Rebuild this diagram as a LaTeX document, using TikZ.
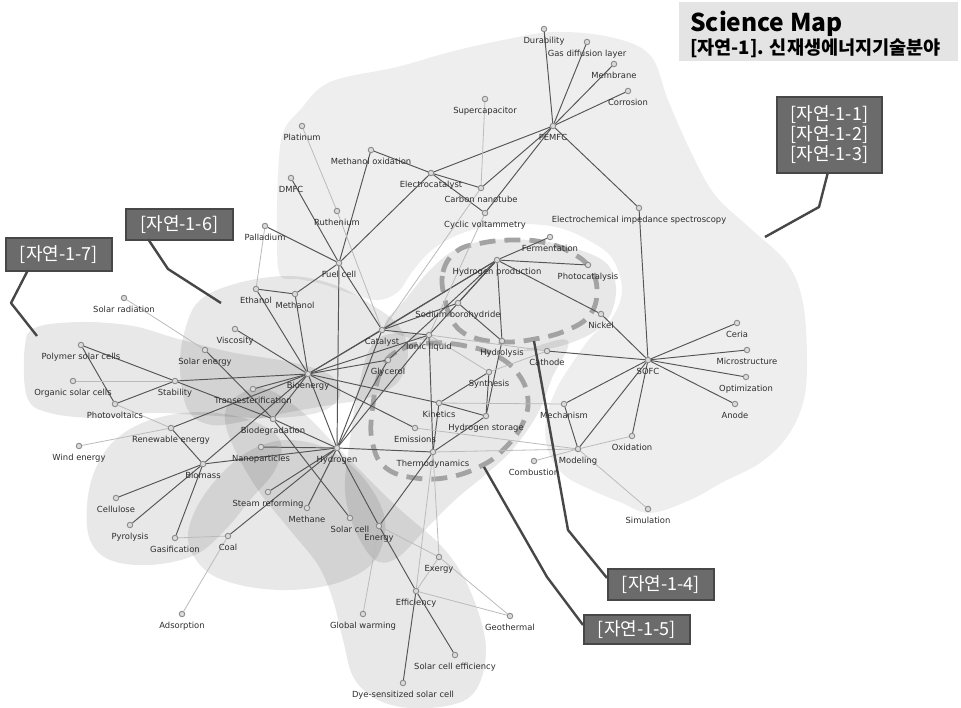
\documentclass[tikz,border=0pt]{standalone}
\usepackage{fontspec}
\setmainfont{DejaVu Sans}
\newfontfamily\kr{Noto Sans CJK KR}
\pgfdeclarelayer{blobs}
\pgfdeclarelayer{edges}
\pgfsetlayers{blobs,edges,main}
\definecolor{edark}{HTML}{555555}
\definecolor{elight}{HTML}{BBBBBB}
\definecolor{nodeline}{HTML}{8C8C8C}
\definecolor{nodefill}{HTML}{DADADA}
\definecolor{boxfill}{HTML}{6B6B6B}
\definecolor{boxline}{HTML}{474747}
\definecolor{leadercol}{HTML}{474747}
\definecolor{titlefill}{HTML}{E4E4E4}
\definecolor{dashcol}{HTML}{A3A3A3}
\definecolor{lbl}{HTML}{2E2E2E}
\tikzset{
 kw/.style={circle, draw=nodeline, fill=nodefill, line width=0.9pt, minimum size=5.5pt, inner sep=0pt},
 kwlabel/.style={font=\fontsize{8.4}{9}\selectfont, text=lbl, inner sep=0.5pt, text height=6.2pt, text depth=1.8pt},
 dk/.style={draw=edark, line width=0.95pt},
 lt/.style={draw=elight, line width=0.8pt},
 blobA/.style={fill=black, fill opacity=0.068},
 blob/.style={fill=black, fill opacity=0.09},
 loopline/.style={draw=dashcol, line width=4.8pt, dash pattern=on 16pt off 9pt, line cap=butt},
 tagbox/.style={fill=boxfill, draw=boxline, line width=1.6pt, text=white, font=\kr\fontsize{18}{20}\selectfont, inner xsep=4pt, inner ysep=2pt, anchor=north west},
 leaderline/.style={draw=leadercol, line width=2.4pt, line join=round},
}
\newcommand\kwnode[4]{\node[kw,label={[kwlabel]below:#4}] (#1) at (#2,#3) {};}
\begin{document}
\begin{tikzpicture}[x=1pt,y=-1pt,label distance=4pt]
\useasboundingbox (0,0) rectangle (961,707);

% ---------- background regions ----------
\begin{pgfonlayer}{blobs}
\fill[white] (0,0) rectangle (961,707);
\fill[blobA] plot[smooth cycle, tension=0.6] coordinates {
 (280,275) (277,235) (278,175) (283,133) (300,110) (330,82) (397,67) (450,52) (503,40) (553,32) (610,37) (650,55)
 (668,100) (690,150) (715,195) (750,228) (787,263) (803,303) (807,363) (803,403) (787,437) (760,463) (723,482)
 (690,500) (650,513) (620,502) (587,488) (563,474) (548,450) (546,420) (556,390) (573,362) (592,336) (612,318)
 (622,290) (612,258) (588,240) (560,228) (528,224) (495,225) (460,234) (432,250) (412,272) (398,292) (378,300)
 (352,294) (322,284) (298,279)};
\fill[blob] plot[smooth cycle, tension=0.6] coordinates {
 (385,325) (405,300) (430,270) (455,250) (490,240) (540,241) (580,250) (608,265) (616,292) (606,322)
 (578,340) (540,350) (490,350) (445,342) (410,338)};
\fill[blob] plot[smooth cycle, tension=0.6] coordinates {
 (372,345) (400,333) (450,343) (510,352) (567,340) (552,378) (537,415) (512,450) (485,475) (455,500)
 (425,530) (397,558) (375,560) (355,530) (345,490) (350,440) (358,390)};
\fill[blob] plot[smooth cycle, tension=0.6] coordinates {
 (200,300) (238,283) (290,276) (335,285) (372,305) (398,325) (408,352) (398,382) (368,398) (330,405)
 (290,412) (250,420) (212,425) (188,410) (180,368) (185,330)};
\fill[blob] plot[smooth cycle, tension=0.6] coordinates {
 (25,345) (37,327) (83,322) (133,326) (175,338) (230,352) (290,362) (330,375) (340,395) (320,412)
 (270,418) (200,415) (150,413) (100,418) (50,413) (27,397)};
\fill[blob] plot[smooth cycle, tension=0.6] coordinates {
 (95,470) (115,440) (150,420) (200,412) (250,420) (280,440) (275,470) (250,500) (225,530) (195,555)
 (150,565) (110,560) (90,540) (87,505)};
\fill[blob] plot[smooth cycle, tension=0.6] coordinates {
 (188,540) (198,505) (225,470) (255,448) (290,440) (330,450) (365,480) (385,520) (375,560) (340,582)
 (290,590) (240,585) (205,570)};
\fill[blob] plot[smooth cycle, tension=0.6] coordinates {
 (232,400) (262,388) (300,410) (345,455) (395,505) (445,550) (472,595) (486,650) (472,695) (430,708)
 (385,703) (355,680) (343,640) (333,600) (318,565) (290,530) (258,490) (235,450) (225,420)};
% dashed loops
\draw[loopline] plot[smooth cycle, tension=0.7] coordinates {
 (445,300) (443,272) (457,251) (482,243) (512,240) (542,242) (570,252) (590,268) (597,292) (589,316)
 (565,331) (535,339) (505,342) (475,338) (455,325)};
\draw[loopline] plot[smooth cycle, tension=0.7] coordinates {
 (382,368) (402,349) (432,343) (466,346) (497,356) (519,375) (528,400) (522,425) (505,448) (483,465)
 (450,477) (415,478) (386,468) (373,445) (372,412)};
\end{pgfonlayer}

% ---------- title and tags ----------
\node[fill=titlefill, minimum width=279pt, minimum height=59pt, anchor=north west, inner sep=0pt] (titlebox) at (679,2) {};
\node[anchor=base west, inner sep=0pt, font=\kr\bfseries\fontsize{24.5}{26}\selectfont] (title1) at (690,31) {Science Map};
\node[anchor=base west, inner sep=0pt, font=\kr\bfseries\fontsize{18.6}{20}\selectfont] (title2) at (690,54) {[자연-1]. 신재생에너지기술분야};

\node[tagbox, minimum width=105pt, minimum height=76pt, align=center] (t123) at (776,96) {[자연-1-1]\\{[자연-1-2]}\\{[자연-1-3]}};
\node[tagbox, minimum width=107pt, minimum height=31pt] (t6) at (125,208) {[자연-1-6]};
\node[tagbox, minimum width=106pt, minimum height=33pt] (t7) at (5,237) {[자연-1-7]};
\node[tagbox, minimum width=106pt, minimum height=31pt] (t4) at (607,568) {[자연-1-4]};
\node[tagbox, minimum width=106pt, minimum height=29pt] (t5) at (583,614) {[자연-1-5]};

\coordinate (l7a) at (28,270); \coordinate (l7b) at (11,303); \coordinate (l7c) at (37,336);
\coordinate (l6a) at (148,239); \coordinate (l6b) at (168,269); \coordinate (l6c) at (221,303);
\coordinate (l1a) at (828,172); \coordinate (l1b) at (819,207); \coordinate (l1c) at (765,237);
\coordinate (l4a) at (534,341); \coordinate (l4b) at (568,530); \coordinate (l4c) at (607,578);
\coordinate (l5a) at (484,467); \coordinate (l5b) at (547,577); \coordinate (l5c) at (583,625);
\draw[leaderline] (l7a) -- (l7b) -- (l7c);
\draw[leaderline] (l6a) -- (l6b) -- (l6c);
\draw[leaderline] (l1a) -- (l1b) -- (l1c);
\draw[leaderline] (l4a) -- (l4b) -- (l4c);
\draw[leaderline] (l5a) -- (l5b) -- (l5c);

% ---------- keyword nodes ----------
\kwnode{dur}{544}{29}{Durability}
\kwnode{gdl}{587}{42}{Gas diffusion layer}
\kwnode{mem}{614}{64}{Membrane}
\kwnode{cor}{628}{91}{Corrosion}
\kwnode{pem}{553}{126}{PEMFC}
\kwnode{sup}{485}{99}{Supercapacitor}
\kwnode{plat}{302}{126}{Platinum}
\kwnode{mox}{371}{150}{Methanol oxidation}
\kwnode{ecat}{431}{173}{Electrocatalyst}
\kwnode{cnt}{481}{188}{Carbon nanotube}
\kwnode{dmfc}{291}{178}{DMFC}
\kwnode{ruth}{337}{211}{Ruthenium}
\kwnode{cv}{485}{213}{Cyclic voltammetry}
\kwnode{eis}{639}{208}{Electrochemical impedance spectroscopy}
\kwnode{pall}{265}{226}{Palladium}
\kwnode{ferm}{550}{237}{Fermentation}
\kwnode{fc}{339}{263}{Fuel cell}
\kwnode{hp}{497}{260}{Hydrogen production}
\kwnode{photo}{588}{265}{Photocatalysis}
\kwnode{eth}{256}{289}{Ethanol}
\kwnode{meth}{295}{294}{Methanol}
\kwnode{srad}{124}{298}{Solar radiation}
\kwnode{sbh}{458}{303}{Sodium borohydride}
\kwnode{nick}{601}{314}{Nickel}
\kwnode{visc}{235}{329}{Viscosity}
\kwnode{ceria}{737}{323}{Ceria}
\kwnode{cat}{382}{330}{Catalyst}
\kwnode{il}{429}{335}{Ionic liquid}
\kwnode{hyd}{502}{341}{Hydrolysis}
\kwnode{psc}{81}{345}{Polymer solar cells}
\kwnode{sen}{205}{350}{Solar energy}
\kwnode{micro}{747}{350}{Microstructure}
\kwnode{cath}{547}{351}{Cathode}
\kwnode{gly}{388}{360}{Glycerol}
\kwnode{sofc}{648}{360}{SOFC}
\kwnode{bio}{308}{374}{Bioenergy}
\kwnode{syn}{489}{372}{Synthesis}
\kwnode{osc}{73}{381}{Organic solar cells}
\kwnode{stab}{175}{381}{Stability}
\kwnode{opt}{746}{377}{Optimization}
\kwnode{trans}{253}{389}{Transesterification}
\kwnode{kin}{439}{403}{Kinetics}
\kwnode{pv}{115}{404}{Photovoltaics}
\kwnode{anode}{735}{404}{Anode}
\kwnode{mech}{564}{404}{Mechanism}
\kwnode{hs}{486}{416}{Hydrogen storage}
\kwnode{biod}{273}{419}{Biodegradation}
\kwnode{ren}{171}{428}{Renewable energy}
\kwnode{emis}{415}{428}{Emissions}
\kwnode{oxid}{632}{436}{Oxidation}
\kwnode{wind}{79}{446}{Wind energy}
\kwnode{nano}{261}{447}{Nanoparticles}
\kwnode{h2}{337}{448}{Hydrogen}
\kwnode{thermo}{433}{452}{Thermodynamics}
\kwnode{model}{578}{449}{Modeling}
\kwnode{comb}{534}{461}{Combustion}
\kwnode{biom}{203}{464}{Biomass}
\kwnode{steam}{268}{492}{Steam reforming}
\kwnode{cell}{116}{498}{Cellulose}
\kwnode{methane}{307}{508}{Methane}
\kwnode{simul}{648}{509}{Simulation}
\kwnode{scell}{350}{518}{Solar cell}
\kwnode{energy}{379}{526}{Energy}
\kwnode{pyro}{130}{525}{Pyrolysis}
\kwnode{coal}{228}{536}{Coal}
\kwnode{gas}{175}{538}{Gasification}
\kwnode{exergy}{439}{557}{Exergy}
\kwnode{eff}{416}{591}{Efficiency}
\kwnode{ads}{182}{614}{Adsorption}
\kwnode{gw}{363}{614}{Global warming}
\kwnode{geo}{510}{616}{Geothermal}
\kwnode{sce}{455}{655}{Solar cell efficiency}
\kwnode{dssc}{403}{683}{Dye-sensitized solar cell}

% ---------- connectors ----------
\begin{pgfonlayer}{edges}
\foreach \a/\b in {pem/dur,pem/gdl,pem/mem,pem/cor,pem/ecat,pem/cnt,pem/cv,pem/eis,
 ecat/mox,ecat/cnt,ecat/cv,ecat/fc,mox/fc,dmfc/fc,pall/fc,meth/fc,fc/cat,fc/h2,
 eth/meth,eth/bio,meth/bio,visc/bio,sen/biod,psc/stab,psc/pv,stab/pv,stab/bio,stab/biod,
 ren/bio,ren/biom,trans/bio,bio/cat,bio/gly,bio/hp,bio/il,bio/kin,bio/emis,bio/h2,bio/biom,bio/biod,
 biod/h2,biod/scell,biom/h2,biom/cell,biom/pyro,biom/gas,coal/h2,steam/h2,methane/h2,nano/h2,
 h2/energy,h2/thermo,h2/cat,h2/gly,h2/il,cat/hp,cat/sbh,cat/il,
 hp/ferm,hp/photo,hp/nick,hp/hyd,hp/sbh,hp/il,gly/hp,sbh/hyd,
 hyd/hs,syn/hs,syn/kin,kin/hs,kin/thermo,hs/thermo,il/thermo,
 mech/sofc,mech/model,cath/sofc,nick/sofc,sofc/ceria,sofc/micro,sofc/opt,sofc/anode,sofc/eis,sofc/oxid,sofc/model,
 energy/thermo,energy/eff,eff/sce,eff/dssc}
 {\draw[dk] (\a) -- (\b);}
\foreach \a/\b in {sup/cnt,plat/ruth,ruth/cat,pall/eth,srad/sen,osc/stab,pv/ren,wind/ren,gas/coal,coal/ads,
 cv/il,cnt/cat,il/cath,il/syn,syn/cath,kin/mech,emis/model,thermo/model,comb/model,oxid/model,model/simul,
 energy/exergy,energy/gw,thermo/exergy,thermo/eff,eff/exergy,exergy/geo,eff/geo}
 {\draw[lt] (\a) -- (\b);}
\end{pgfonlayer}
\end{tikzpicture}
\end{document}
